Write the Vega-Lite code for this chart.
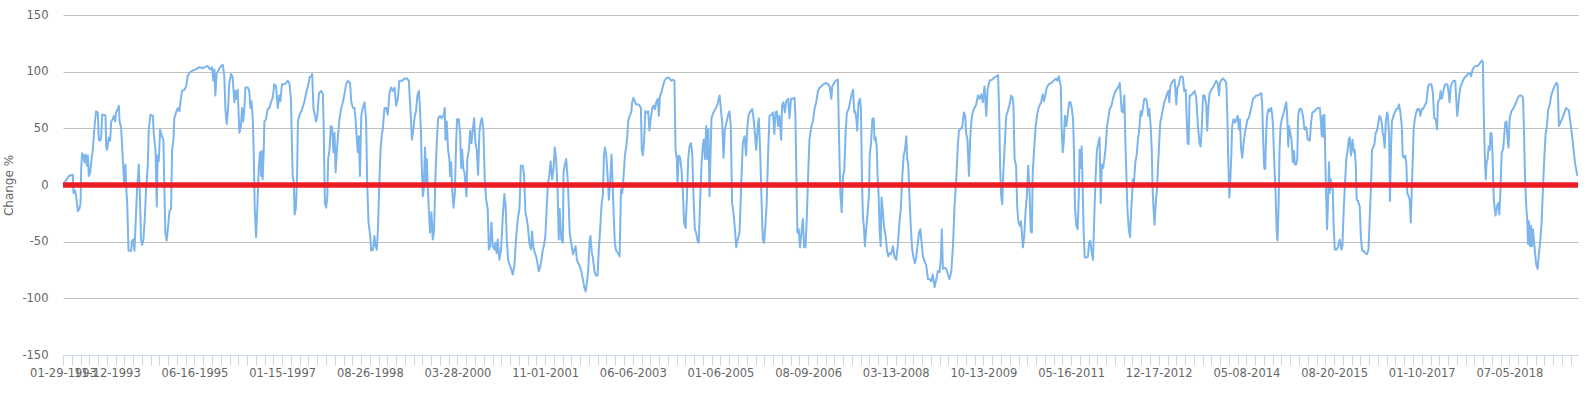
{
"$schema": "https://vega.github.io/schema/vega-lite/v6.json",
"width": 1515, "height": 340,
"autosize": {"type": "none"},
"padding": {"left": 63, "top": 15, "right": 11, "bottom": 38},
"background": "white",
"config": {"view": {"stroke": null}, "font": "DejaVu Sans"},
"data": {"values": [
{"i":0,"v":1},{"i":7,"v":2},{"i":27,"v":8},{"i":45,"v":9},{"i":48,"v":-7},{"i":55,"v":-5},{"i":60,"v":-10},{"i":68,"v":-23},{"i":75,"v":-21},{"i":80,"v":-16},{"i":83,"v":14},{"i":87,"v":28},{"i":93,"v":26},{"i":98,"v":20},{"i":103,"v":27},{"i":109,"v":17},{"i":113,"v":26},{"i":118,"v":8},{"i":124,"v":11},{"i":130,"v":23},{"i":136,"v":31},{"i":144,"v":52},{"i":151,"v":65},{"i":159,"v":64},{"i":163,"v":40},{"i":169,"v":39},{"i":174,"v":42},{"i":179,"v":62},{"i":189,"v":62},{"i":194,"v":61},{"i":197,"v":34},{"i":201,"v":31},{"i":209,"v":42},{"i":215,"v":39},{"i":220,"v":56},{"i":227,"v":58},{"i":232,"v":61},{"i":238,"v":56},{"i":242,"v":64},{"i":250,"v":67},{"i":255,"v":70},{"i":258,"v":56},{"i":265,"v":51},{"i":273,"v":23},{"i":279,"v":2},{"i":285,"v":18},{"i":288,"v":-1},{"i":293,"v":-16},{"i":299,"v":-58},{"i":311,"v":-58},{"i":315,"v":-49},{"i":321,"v":-48},{"i":326,"v":-58},{"i":331,"v":-36},{"i":338,"v":-4},{"i":346,"v":18},{"i":350,"v":-4},{"i":356,"v":-48},{"i":361,"v":-53},{"i":367,"v":-48},{"i":373,"v":-30},{"i":379,"v":-4},{"i":387,"v":17},{"i":391,"v":48},{"i":399,"v":62},{"i":410,"v":61},{"i":414,"v":46},{"i":422,"v":31},{"i":428,"v":-19},{"i":432,"v":26},{"i":437,"v":21},{"i":443,"v":49},{"i":451,"v":43},{"i":458,"v":40},{"i":463,"v":-7},{"i":467,"v":-42},{"i":473,"v":-49},{"i":480,"v":-36},{"i":486,"v":-23},{"i":493,"v":-21},{"i":498,"v":31},{"i":504,"v":40},{"i":508,"v":59},{"i":516,"v":64},{"i":524,"v":68},{"i":531,"v":65},{"i":536,"v":73},{"i":543,"v":83},{"i":554,"v":84},{"i":562,"v":87},{"i":569,"v":96},{"i":577,"v":99},{"i":592,"v":101},{"i":607,"v":102},{"i":622,"v":104},{"i":638,"v":103},{"i":645,"v":104},{"i":660,"v":105},{"i":671,"v":102},{"i":680,"v":104},{"i":686,"v":92},{"i":691,"v":102},{"i":695,"v":79},{"i":701,"v":98},{"i":711,"v":102},{"i":721,"v":105},{"i":729,"v":106},{"i":736,"v":96},{"i":741,"v":67},{"i":747,"v":54},{"i":753,"v":67},{"i":759,"v":90},{"i":767,"v":98},{"i":774,"v":95},{"i":782,"v":73},{"i":787,"v":83},{"i":791,"v":76},{"i":797,"v":84},{"i":805,"v":46},{"i":812,"v":52},{"i":817,"v":68},{"i":822,"v":56},{"i":828,"v":68},{"i":832,"v":86},{"i":843,"v":86},{"i":850,"v":83},{"i":855,"v":68},{"i":860,"v":74},{"i":866,"v":58},{"i":870,"v":31},{"i":875,"v":-21},{"i":881,"v":-46},{"i":887,"v":-19},{"i":893,"v":14},{"i":899,"v":29},{"i":904,"v":8},{"i":907,"v":30},{"i":911,"v":5},{"i":916,"v":31},{"i":919,"v":56},{"i":926,"v":58},{"i":934,"v":67},{"i":942,"v":68},{"i":949,"v":73},{"i":957,"v":77},{"i":964,"v":89},{"i":972,"v":87},{"i":980,"v":68},{"i":987,"v":79},{"i":992,"v":74},{"i":999,"v":89},{"i":1010,"v":89},{"i":1018,"v":90},{"i":1025,"v":92},{"i":1033,"v":90},{"i":1040,"v":76},{"i":1048,"v":8},{"i":1053,"v":2},{"i":1057,"v":-26},{"i":1063,"v":-20},{"i":1068,"v":8},{"i":1072,"v":56},{"i":1078,"v":61},{"i":1091,"v":67},{"i":1101,"v":73},{"i":1109,"v":81},{"i":1121,"v":90},
{"i":1125,"v":95},{"i":1133,"v":96},{"i":1137,"v":98},{"i":1143,"v":67},{"i":1149,"v":62},{"i":1155,"v":56},{"i":1161,"v":62},{"i":1168,"v":81},{"i":1178,"v":83},{"i":1186,"v":80},{"i":1190,"v":46},{"i":1195,"v":-16},{"i":1201,"v":-20},{"i":1206,"v":-10},{"i":1210,"v":23},{"i":1216,"v":31},{"i":1222,"v":52},{"i":1228,"v":51},{"i":1234,"v":29},{"i":1239,"v":46},{"i":1244,"v":11},{"i":1250,"v":31},{"i":1256,"v":46},{"i":1262,"v":59},{"i":1269,"v":67},{"i":1277,"v":73},{"i":1285,"v":81},{"i":1292,"v":89},{"i":1300,"v":92},{"i":1310,"v":90},{"i":1315,"v":74},{"i":1323,"v":68},{"i":1330,"v":68},{"i":1335,"v":58},{"i":1341,"v":40},{"i":1345,"v":29},{"i":1350,"v":43},{"i":1355,"v":8},{"i":1361,"v":61},{"i":1368,"v":68},{"i":1376,"v":73},{"i":1383,"v":58},{"i":1388,"v":2},{"i":1394,"v":-33},{"i":1402,"v":-45},{"i":1406,"v":-58},{"i":1414,"v":-57},{"i":1421,"v":-45},{"i":1426,"v":-54},{"i":1432,"v":-57},{"i":1437,"v":-39},{"i":1444,"v":5},{"i":1449,"v":31},{"i":1455,"v":45},{"i":1459,"v":49},{"i":1467,"v":68},{"i":1475,"v":68},{"i":1482,"v":62},{"i":1490,"v":81},{"i":1497,"v":86},{"i":1505,"v":83},{"i":1513,"v":86},{"i":1520,"v":70},{"i":1528,"v":76},{"i":1535,"v":92},{"i":1548,"v":92},{"i":1558,"v":94},{"i":1569,"v":94},{"i":1578,"v":92},{"i":1581,"v":81},{"i":1587,"v":61},{"i":1592,"v":40},{"i":1599,"v":49},{"i":1605,"v":61},{"i":1611,"v":65},{"i":1617,"v":79},{"i":1624,"v":83},{"i":1628,"v":71},{"i":1633,"v":49},{"i":1637,"v":17},{"i":1642,"v":-10},{"i":1646,"v":-4},{"i":1652,"v":33},{"i":1657,"v":2},{"i":1660,"v":23},{"i":1665,"v":-4},{"i":1669,"v":-21},{"i":1675,"v":-42},{"i":1681,"v":-24},{"i":1687,"v":-48},{"i":1693,"v":-41},{"i":1700,"v":11},{"i":1706,"v":40},{"i":1712,"v":59},{"i":1721,"v":61},{"i":1728,"v":59},{"i":1736,"v":61},{"i":1742,"v":68},{"i":1745,"v":40},{"i":1751,"v":56},{"i":1757,"v":31},{"i":1763,"v":23},{"i":1766,"v":8},{"i":1771,"v":20},{"i":1776,"v":-4},{"i":1782,"v":-20},{"i":1788,"v":-7},{"i":1794,"v":37},{"i":1798,"v":58},{"i":1806,"v":58},{"i":1812,"v":46},{"i":1817,"v":15},{"i":1821,"v":31},{"i":1827,"v":14},{"i":1832,"v":11},{"i":1836,"v":2},{"i":1841,"v":-10},{"i":1845,"v":23},{"i":1852,"v":31},{"i":1858,"v":48},{"i":1864,"v":37},{"i":1870,"v":49},{"i":1876,"v":59},{"i":1882,"v":37},{"i":1888,"v":31},{"i":1894,"v":9},{"i":1900,"v":46},{"i":1906,"v":56},{"i":1912,"v":59},{"i":1918,"v":49},{"i":1925,"v":2},{"i":1931,"v":-13},{"i":1938,"v":-21},{"i":1943,"v":-57},{"i":1949,"v":-54},{"i":1955,"v":-33},{"i":1961,"v":-54},{"i":1969,"v":-57},{"i":1973,"v":-51},{"i":1979,"v":-60},{"i":1984,"v":-48},{"i":1991,"v":-66},{"i":1999,"v":-57},{"i":2007,"v":-27},{"i":2014,"v":-8},{"i":2020,"v":-19},{"i":2025,"v":-48},{"i":2031,"v":-66},{"i":2037,"v":-70},{"i":2045,"v":-74},{"i":2052,"v":-79},{"i":2060,"v":-71},{"i":2067,"v":-48},{"i":2075,"v":-30},{"i":2083,"v":-21},{"i":2089,"v":17},{"i":2098,"v":17},{"i":2104,"v":8},{"i":2110,"v":-24},{"i":2116,"v":-30},{"i":2121,"v":-36},{"i":2128,"v":-51},{"i":2136,"v":-57},{"i":2140,"v":-41},{"i":2146,"v":-54},{"i":2153,"v":-60},{"i":2159,"v":-63},{"i":2165,"v":-69},{"i":2171,"v":-76},{"i":2177,"v":-73},{"i":2183,"v":-66},{"i":2189,"v":-58},{"i":2197,"v":-51},{"i":2201,"v":-45},{"i":2207,"v":-21},{"i":2213,"v":2},{"i":2219,"v":8},{"i":2225,"v":21},{"i":2232,"v":5},{"i":2238,"v":14},{"i":2244,"v":33},{"i":2250,"v":23},{"i":2257,"v":-4},{"i":2262,"v":-48},
{"i":2266,"v":-21},{"i":2274,"v":-48},{"i":2281,"v":-51},{"i":2284,"v":11},{"i":2289,"v":17},{"i":2296,"v":23},{"i":2304,"v":2},{"i":2312,"v":-42},{"i":2319,"v":-51},{"i":2327,"v":-61},{"i":2334,"v":-57},{"i":2339,"v":-54},{"i":2345,"v":-66},{"i":2351,"v":-69},{"i":2357,"v":-71},{"i":2365,"v":-76},{"i":2372,"v":-83},{"i":2380,"v":-91},{"i":2385,"v":-94},{"i":2391,"v":-86},{"i":2397,"v":-74},{"i":2403,"v":-49},{"i":2407,"v":-45},{"i":2413,"v":-60},{"i":2418,"v":-64},{"i":2426,"v":-77},{"i":2433,"v":-80},{"i":2439,"v":-80},{"i":2445,"v":-57},{"i":2451,"v":-39},{"i":2458,"v":-16},{"i":2464,"v":-8},{"i":2468,"v":26},{"i":2473,"v":33},{"i":2479,"v":26},{"i":2485,"v":8},{"i":2491,"v":-13},{"i":2497,"v":4},{"i":2503,"v":27},{"i":2509,"v":-4},{"i":2514,"v":-33},{"i":2518,"v":-51},{"i":2524,"v":-58},{"i":2532,"v":-60},{"i":2540,"v":-63},{"i":2546,"v":-4},{"i":2552,"v":-7},{"i":2558,"v":8},{"i":2564,"v":26},{"i":2570,"v":34},{"i":2575,"v":43},{"i":2579,"v":56},{"i":2585,"v":61},{"i":2593,"v":64},{"i":2597,"v":73},{"i":2603,"v":77},{"i":2610,"v":73},{"i":2616,"v":71},{"i":2628,"v":71},{"i":2637,"v":68},{"i":2641,"v":31},{"i":2646,"v":26},{"i":2651,"v":37},{"i":2657,"v":65},{"i":2664,"v":64},{"i":2670,"v":65},{"i":2676,"v":48},{"i":2682,"v":59},{"i":2689,"v":68},{"i":2695,"v":70},{"i":2701,"v":67},{"i":2707,"v":73},{"i":2714,"v":76},{"i":2719,"v":61},{"i":2724,"v":79},{"i":2730,"v":81},{"i":2737,"v":87},{"i":2745,"v":92},{"i":2752,"v":94},{"i":2763,"v":95},{"i":2775,"v":92},{"i":2783,"v":93},{"i":2790,"v":92},{"i":2795,"v":31},{"i":2801,"v":23},{"i":2804,"v":-1},{"i":2809,"v":26},{"i":2816,"v":24},{"i":2822,"v":14},{"i":2828,"v":-4},{"i":2834,"v":-33},{"i":2841,"v":-38},{"i":2847,"v":-10},{"i":2853,"v":23},{"i":2859,"v":34},{"i":2865,"v":37},{"i":2871,"v":29},{"i":2877,"v":-10},{"i":2883,"v":-39},{"i":2889,"v":-42},{"i":2895,"v":-49},{"i":2901,"v":-51},{"i":2907,"v":-16},{"i":2914,"v":20},{"i":2920,"v":36},{"i":2924,"v":40},{"i":2929,"v":23},{"i":2935,"v":52},{"i":2939,"v":23},{"i":2945,"v":49},{"i":2950,"v":-10},{"i":2955,"v":29},{"i":2959,"v":59},{"i":2968,"v":64},{"i":2977,"v":67},{"i":2986,"v":71},{"i":2996,"v":79},{"i":3002,"v":67},{"i":3008,"v":55},{"i":3014,"v":24},{"i":3020,"v":49},{"i":3026,"v":54},{"i":3034,"v":61},{"i":3041,"v":65},{"i":3047,"v":52},{"i":3053,"v":-16},{"i":3059,"v":-24},{"i":3066,"v":-39},{"i":3072,"v":-55},{"i":3079,"v":-48},{"i":3087,"v":-42},{"i":3094,"v":-4},{"i":3102,"v":37},{"i":3110,"v":43},{"i":3117,"v":26},{"i":3123,"v":52},{"i":3129,"v":62},{"i":3137,"v":65},{"i":3145,"v":67},{"i":3151,"v":59},{"i":3157,"v":46},{"i":3163,"v":31},{"i":3170,"v":51},{"i":3175,"v":59},{"i":3181,"v":31},{"i":3187,"v":-10},{"i":3193,"v":-48},{"i":3199,"v":-51},{"i":3205,"v":-36},{"i":3211,"v":-16},{"i":3218,"v":31},{"i":3224,"v":61},{"i":3233,"v":62},{"i":3239,"v":64},{"i":3246,"v":45},{"i":3251,"v":64},{"i":3257,"v":65},{"i":3263,"v":52},{"i":3269,"v":61},{"i":3277,"v":40},{"i":3281,"v":70},{"i":3287,"v":73},{"i":3294,"v":64},{"i":3300,"v":74},{"i":3309,"v":76},{"i":3315,"v":59},{"i":3322,"v":76},{"i":3330,"v":76},{"i":3338,"v":77},{"i":3342,"v":62},{"i":3347,"v":2},{"i":3351,"v":-42},{"i":3357,"v":-39},{"i":3363,"v":-55},{"i":3370,"v":-41},{"i":3376,"v":-30},{"i":3382,"v":-55},{"i":3388,"v":-55},{"i":3394,"v":-29},{"i":3400,"v":8},{"i":3406,"v":40},
{"i":3415,"v":52},{"i":3422,"v":56},{"i":3430,"v":68},{"i":3437,"v":73},{"i":3445,"v":83},{"i":3453,"v":86},{"i":3460,"v":87},{"i":3471,"v":89},{"i":3483,"v":90},{"i":3491,"v":89},{"i":3498,"v":87},{"i":3506,"v":76},{"i":3510,"v":87},{"i":3516,"v":89},{"i":3526,"v":92},{"i":3536,"v":93},{"i":3541,"v":43},{"i":3547,"v":-7},{"i":3553,"v":-24},{"i":3559,"v":8},{"i":3565,"v":12},{"i":3571,"v":46},{"i":3577,"v":64},{"i":3585,"v":67},{"i":3592,"v":74},{"i":3599,"v":80},{"i":3605,"v":84},{"i":3611,"v":64},{"i":3615,"v":65},{"i":3620,"v":58},{"i":3624,"v":48},{"i":3630,"v":73},{"i":3637,"v":76},{"i":3641,"v":67},{"i":3646,"v":2},{"i":3650,"v":-27},{"i":3655,"v":-39},{"i":3659,"v":-54},{"i":3665,"v":-39},{"i":3671,"v":-26},{"i":3678,"v":-7},{"i":3681,"v":26},{"i":3687,"v":37},{"i":3693,"v":58},{"i":3699,"v":59},{"i":3703,"v":40},{"i":3708,"v":42},{"i":3713,"v":34},{"i":3717,"v":8},{"i":3722,"v":-10},{"i":3726,"v":-39},{"i":3731,"v":-54},{"i":3735,"v":-11},{"i":3741,"v":-24},{"i":3747,"v":-38},{"i":3754,"v":-45},{"i":3760,"v":-58},{"i":3766,"v":-63},{"i":3772,"v":-60},{"i":3779,"v":-61},{"i":3787,"v":-54},{"i":3795,"v":-64},{"i":3802,"v":-66},{"i":3810,"v":-52},{"i":3817,"v":-32},{"i":3823,"v":-21},{"i":3830,"v":8},{"i":3836,"v":26},{"i":3842,"v":31},{"i":3848,"v":43},{"i":3852,"v":23},{"i":3857,"v":18},{"i":3863,"v":-13},{"i":3869,"v":-39},{"i":3875,"v":-57},{"i":3881,"v":-64},{"i":3887,"v":-69},{"i":3893,"v":-64},{"i":3899,"v":-54},{"i":3906,"v":-42},{"i":3912,"v":-39},{"i":3918,"v":-51},{"i":3924,"v":-63},{"i":3931,"v":-67},{"i":3939,"v":-71},{"i":3947,"v":-83},{"i":3954,"v":-83},{"i":3962,"v":-85},{"i":3969,"v":-79},{"i":3977,"v":-90},{"i":3985,"v":-83},{"i":3992,"v":-76},{"i":4000,"v":-77},{"i":4006,"v":-64},{"i":4010,"v":-39},{"i":4015,"v":-74},{"i":4023,"v":-73},{"i":4030,"v":-74},{"i":4038,"v":-79},{"i":4045,"v":-83},{"i":4053,"v":-77},{"i":4061,"v":-54},{"i":4068,"v":-19},{"i":4076,"v":5},{"i":4083,"v":34},{"i":4088,"v":48},{"i":4094,"v":49},{"i":4103,"v":51},{"i":4111,"v":64},{"i":4117,"v":61},{"i":4121,"v":46},{"i":4127,"v":40},{"i":4134,"v":8},{"i":4140,"v":43},{"i":4146,"v":58},{"i":4152,"v":65},{"i":4159,"v":68},{"i":4167,"v":71},{"i":4175,"v":79},{"i":4182,"v":76},{"i":4190,"v":80},{"i":4197,"v":73},{"i":4205,"v":87},{"i":4213,"v":61},{"i":4219,"v":84},{"i":4228,"v":92},{"i":4240,"v":93},{"i":4251,"v":95},{"i":4261,"v":96},{"i":4267,"v":97},{"i":4272,"v":61},{"i":4276,"v":17},{"i":4281,"v":-10},{"i":4286,"v":-17},{"i":4290,"v":8},{"i":4296,"v":31},{"i":4304,"v":61},{"i":4311,"v":65},{"i":4319,"v":71},{"i":4327,"v":79},{"i":4333,"v":77},{"i":4337,"v":70},{"i":4342,"v":23},{"i":4349,"v":17},{"i":4354,"v":-19},{"i":4359,"v":-32},{"i":4365,"v":-36},{"i":4371,"v":-32},{"i":4375,"v":-41},{"i":4380,"v":-55},{"i":4386,"v":-45},{"i":4392,"v":-24},{"i":4398,"v":-10},{"i":4404,"v":17},{"i":4410,"v":-4},{"i":4416,"v":-41},{"i":4421,"v":-42},{"i":4425,"v":11},{"i":4431,"v":31},{"i":4438,"v":51},{"i":4444,"v":61},{"i":4450,"v":67},{"i":4456,"v":70},{"i":4463,"v":73},{"i":4471,"v":80},{"i":4476,"v":74},{"i":4482,"v":79},{"i":4489,"v":86},{"i":4498,"v":89},{"i":4509,"v":90},{"i":4520,"v":92},{"i":4532,"v":94},{"i":4538,"v":92},{"i":4544,"v":96},
{"i":4548,"v":92},{"i":4553,"v":87},{"i":4557,"v":49},{"i":4562,"v":29},{"i":4566,"v":37},{"i":4572,"v":61},{"i":4578,"v":52},{"i":4584,"v":61},{"i":4591,"v":73},{"i":4597,"v":73},{"i":4603,"v":68},{"i":4609,"v":58},{"i":4613,"v":31},{"i":4618,"v":-21},{"i":4624,"v":-36},{"i":4630,"v":-39},{"i":4635,"v":-10},{"i":4639,"v":31},{"i":4644,"v":15},{"i":4648,"v":34},{"i":4653,"v":-4},{"i":4657,"v":-39},{"i":4662,"v":-64},{"i":4670,"v":-64},{"i":4677,"v":-63},{"i":4682,"v":-51},{"i":4688,"v":-49},{"i":4692,"v":-57},{"i":4700,"v":-66},{"i":4706,"v":-27},{"i":4712,"v":8},{"i":4718,"v":31},{"i":4724,"v":37},{"i":4730,"v":42},{"i":4735,"v":-16},{"i":4740,"v":18},{"i":4746,"v":15},{"i":4752,"v":23},{"i":4758,"v":34},{"i":4764,"v":52},{"i":4770,"v":59},{"i":4776,"v":67},{"i":4784,"v":70},{"i":4791,"v":76},{"i":4799,"v":81},{"i":4806,"v":84},{"i":4814,"v":86},{"i":4822,"v":90},{"i":4826,"v":79},{"i":4831,"v":65},{"i":4837,"v":64},{"i":4843,"v":79},{"i":4847,"v":43},{"i":4852,"v":11},{"i":4857,"v":-21},{"i":4863,"v":-39},{"i":4869,"v":-46},{"i":4873,"v":-27},{"i":4878,"v":-10},{"i":4882,"v":5},{"i":4887,"v":2},{"i":4893,"v":20},{"i":4899,"v":26},{"i":4905,"v":40},{"i":4911,"v":49},{"i":4917,"v":65},{"i":4922,"v":61},{"i":4928,"v":68},{"i":4934,"v":76},{"i":4940,"v":76},{"i":4946,"v":74},{"i":4952,"v":61},{"i":4957,"v":67},{"i":4963,"v":52},{"i":4968,"v":31},{"i":4972,"v":-4},{"i":4977,"v":-24},{"i":4981,"v":-35},{"i":4986,"v":-16},{"i":4992,"v":-4},{"i":4996,"v":14},{"i":5001,"v":34},{"i":5007,"v":55},{"i":5013,"v":61},{"i":5019,"v":67},{"i":5025,"v":73},{"i":5031,"v":76},{"i":5037,"v":80},{"i":5044,"v":83},{"i":5048,"v":73},{"i":5053,"v":87},{"i":5059,"v":90},{"i":5065,"v":92},{"i":5072,"v":93},{"i":5077,"v":81},{"i":5080,"v":71},{"i":5085,"v":86},{"i":5092,"v":89},{"i":5098,"v":95},{"i":5104,"v":96},{"i":5110,"v":95},{"i":5116,"v":83},{"i":5123,"v":84},{"i":5127,"v":61},{"i":5132,"v":37},{"i":5136,"v":36},{"i":5141,"v":79},{"i":5148,"v":79},{"i":5156,"v":81},{"i":5164,"v":83},{"i":5171,"v":77},{"i":5176,"v":61},{"i":5180,"v":49},{"i":5186,"v":37},{"i":5191,"v":34},{"i":5196,"v":49},{"i":5202,"v":79},{"i":5209,"v":79},{"i":5217,"v":70},{"i":5221,"v":48},{"i":5226,"v":68},{"i":5232,"v":81},{"i":5240,"v":84},{"i":5247,"v":86},{"i":5255,"v":89},{"i":5262,"v":92},{"i":5270,"v":89},{"i":5275,"v":79},{"i":5279,"v":90},{"i":5287,"v":93},{"i":5293,"v":94},{"i":5302,"v":92},{"i":5308,"v":90},{"i":5313,"v":61},{"i":5317,"v":23},{"i":5322,"v":-11},{"i":5326,"v":2},{"i":5331,"v":26},{"i":5335,"v":52},{"i":5341,"v":58},{"i":5348,"v":55},{"i":5354,"v":58},{"i":5360,"v":61},{"i":5366,"v":49},{"i":5370,"v":58},{"i":5376,"v":31},{"i":5381,"v":24},{"i":5387,"v":37},{"i":5393,"v":46},{"i":5399,"v":52},{"i":5405,"v":58},{"i":5411,"v":59},{"i":5417,"v":64},{"i":5424,"v":70},{"i":5430,"v":76},{"i":5437,"v":77},{"i":5445,"v":79},{"i":5452,"v":79},{"i":5460,"v":80},{"i":5468,"v":81},{"i":5472,"v":71},{"i":5477,"v":37},{"i":5481,"v":15},{"i":5486,"v":14},{"i":5490,"v":46},{"i":5495,"v":62},{"i":5501,"v":67},{"i":5507,"v":65},{"i":5513,"v":68},{"i":5518,"v":61},{"i":5522,"v":49},{"i":5527,"v":20},{"i":5533,"v":-7},{"i":5538,"v":-41},{"i":5542,"v":-49},{"i":5547,"v":-16},{"i":5551,"v":31},{"i":5556,"v":52},{"i":5562,"v":59},{"i":5568,"v":62},{"i":5574,"v":67},{"i":5582,"v":73},{"i":5586,"v":61},{"i":5591,"v":34},{"i":5595,"v":52},{"i":5600,"v":46},{"i":5606,"v":40},{"i":5612,"v":20},{"i":5617,"v":30},{"i":5621,"v":18},{"i":5627,"v":18},{"i":5632,"v":23},{"i":5636,"v":61},{"i":5642,"v":67},{"i":5650,"v":67},{"i":5658,"v":61},{"i":5665,"v":49},{"i":5673,"v":51},{"i":5680,"v":40},{"i":5685,"v":40},
{"i":5689,"v":39},{"i":5695,"v":55},{"i":5701,"v":64},{"i":5710,"v":65},{"i":5719,"v":67},{"i":5727,"v":68},{"i":5735,"v":68},{"i":5739,"v":58},{"i":5744,"v":43},{"i":5748,"v":61},{"i":5753,"v":42},{"i":5756,"v":62},{"i":5760,"v":23},{"i":5763,"v":-4},{"i":5768,"v":-39},{"i":5773,"v":-10},{"i":5777,"v":20},{"i":5780,"v":-7},{"i":5785,"v":5},{"i":5789,"v":-1},{"i":5794,"v":-4},{"i":5798,"v":-36},{"i":5803,"v":-57},{"i":5811,"v":-57},{"i":5818,"v":-55},{"i":5826,"v":-48},{"i":5833,"v":-57},{"i":5838,"v":-54},{"i":5844,"v":-21},{"i":5850,"v":2},{"i":5856,"v":23},{"i":5862,"v":31},{"i":5867,"v":40},{"i":5871,"v":42},{"i":5877,"v":26},{"i":5884,"v":40},{"i":5890,"v":29},{"i":5894,"v":31},{"i":5899,"v":17},{"i":5903,"v":-13},{"i":5909,"v":-14},{"i":5917,"v":-19},{"i":5922,"v":-45},{"i":5928,"v":-58},{"i":5935,"v":-58},{"i":5941,"v":-60},{"i":5950,"v":-61},{"i":5957,"v":-57},{"i":5963,"v":-27},{"i":5969,"v":2},{"i":5973,"v":31},{"i":5978,"v":33},{"i":5984,"v":36},{"i":5990,"v":46},{"i":5996,"v":48},{"i":6002,"v":55},{"i":6007,"v":61},{"i":6013,"v":59},{"i":6017,"v":55},{"i":6022,"v":46},{"i":6026,"v":42},{"i":6031,"v":33},{"i":6036,"v":56},{"i":6042,"v":64},{"i":6046,"v":61},{"i":6051,"v":43},{"i":6055,"v":-14},{"i":6060,"v":34},{"i":6064,"v":56},{"i":6071,"v":61},{"i":6077,"v":64},{"i":6084,"v":67},{"i":6090,"v":67},{"i":6096,"v":71},{"i":6102,"v":65},{"i":6109,"v":52},{"i":6113,"v":26},{"i":6119,"v":24},{"i":6125,"v":26},{"i":6130,"v":18},{"i":6134,"v":-7},{"i":6140,"v":-10},{"i":6145,"v":-13},{"i":6150,"v":-33},{"i":6154,"v":-7},{"i":6159,"v":23},{"i":6163,"v":49},{"i":6169,"v":59},{"i":6175,"v":64},{"i":6181,"v":67},{"i":6188,"v":67},{"i":6194,"v":61},{"i":6200,"v":67},{"i":6206,"v":67},{"i":6213,"v":70},{"i":6221,"v":73},{"i":6229,"v":87},{"i":6236,"v":89},{"i":6244,"v":89},{"i":6251,"v":81},{"i":6257,"v":59},{"i":6264,"v":58},{"i":6270,"v":49},{"i":6274,"v":73},{"i":6282,"v":76},{"i":6286,"v":83},{"i":6291,"v":76},{"i":6297,"v":81},{"i":6303,"v":87},{"i":6309,"v":89},{"i":6317,"v":89},{"i":6323,"v":81},{"i":6327,"v":73},{"i":6332,"v":87},{"i":6338,"v":90},{"i":6346,"v":92},{"i":6353,"v":92},{"i":6358,"v":73},{"i":6362,"v":61},{"i":6367,"v":70},{"i":6371,"v":79},{"i":6376,"v":86},{"i":6382,"v":89},{"i":6388,"v":92},{"i":6396,"v":95},{"i":6403,"v":96},{"i":6411,"v":98},{"i":6419,"v":99},{"i":6425,"v":96},{"i":6431,"v":101},{"i":6438,"v":104},{"i":6446,"v":105},{"i":6454,"v":105},{"i":6460,"v":106},{"i":6467,"v":108},{"i":6475,"v":110},{"i":6479,"v":108},{"i":6482,"v":73},{"i":6487,"v":31},{"i":6492,"v":5},{"i":6496,"v":20},{"i":6501,"v":23},{"i":6505,"v":34},{"i":6510,"v":31},{"i":6514,"v":46},{"i":6519,"v":45},{"i":6523,"v":26},{"i":6528,"v":-10},{"i":6533,"v":-21},{"i":6537,"v":-27},{"i":6543,"v":-19},{"i":6549,"v":-16},{"i":6554,"v":-26},{"i":6558,"v":-10},{"i":6565,"v":29},{"i":6571,"v":31},{"i":6575,"v":40},{"i":6581,"v":55},{"i":6587,"v":56},{"i":6592,"v":40},{"i":6596,"v":33},{"i":6601,"v":58},{"i":6609,"v":65},{"i":6616,"v":67},{"i":6624,"v":70},{"i":6631,"v":73},{"i":6639,"v":77},{"i":6647,"v":79},{"i":6654,"v":79},{"i":6662,"v":77},{"i":6666,"v":52},{"i":6671,"v":8},{"i":6677,"v":-19},{"i":6682,"v":-33},{"i":6685,"v":-52},{"i":6689,"v":-32},{"i":6694,"v":-54},{"i":6698,"v":-36},{"i":6703,"v":-54},{"i":6707,"v":-39},{"i":6712,"v":-49},{"i":6717,"v":-60},{"i":6723,"v":-71},{"i":6729,"v":-74},{"i":6735,"v":-60},{"i":6741,"v":-49},{"i":6747,"v":-33},{"i":6753,"v":-4},{"i":6759,"v":23},{"i":6765,"v":45},{"i":6771,"v":52},{"i":6777,"v":67},{"i":6783,"v":70},{"i":6791,"v":79},{"i":6799,"v":84},{"i":6806,"v":87},{"i":6814,"v":90},{"i":6820,"v":89},{"i":6826,"v":52},{"i":6844,"v":60},{"i":6858,"v":68},{"i":6871,"v":66},{"i":6885,"v":45},{"i":6899,"v":20},{"i":6910,"v":8}
]},
"layer": [
 {"mark": {"type": "line", "color": "#7cb5ec", "strokeWidth": 2, "strokeJoin": "round"},
  "encoding": {
   "x": {"field": "i", "type": "quantitative", "title": null,
     "scale": {"domain": [0, 6913], "nice": false, "zero": false},
     "axis": {"values": [0,40,80,120,160,200,240,280,320,360,400,440,480,520,560,600,640,680,720,760,800,840,880,920,960,1000,1040,1080,1120,1160,1200,1240,1280,1320,1360,1400,1440,1480,1520,1560,1600,1640,1680,1720,1760,1800,1840,1880,1920,1960,2000,2040,2080,2120,2160,2200,2240,2280,2320,2360,2400,2440,2480,2520,2560,2600,2640,2680,2720,2760,2800,2840,2880,2920,2960,3000,3040,3080,3120,3160,3200,3240,3280,3320,3360,3400,3440,3480,3520,3560,3600,3640,3680,3720,3760,3800,3840,3880,3920,3960,4000,4040,4080,4120,4160,4200,4240,4280,4320,4360,4400,4440,4480,4520,4560,4600,4640,4680,4720,4760,4800,4840,4880,4920,4960,5000,5040,5080,5120,5160,5200,5240,5280,5320,5360,5400,5440,5480,5520,5560,5600,5640,5680,5720,5760,5800,5840,5880,5920,5960,6000,6040,6080,6120,6160,6200,6240,6280,6320,6360,6400,6440,6480,6520,6560,6600,6640,6680,6720,6760,6800,6840,6880],
       "labelExpr": "['01-29-1993','11-12-1993','06-16-1995','01-15-1997','08-26-1998','03-28-2000','11-01-2001','06-06-2003','01-06-2005','08-09-2006','03-13-2008','10-13-2009','05-16-2011','12-17-2012','05-08-2014','08-20-2015','01-10-2017','07-05-2018'][indexof([0,200,600,1000,1400,1800,2200,2600,3000,3400,3800,4200,4600,5000,5400,5800,6200,6600], datum.value)] || ''",
       "labelOverlap": false, "labelAngle": 0, "labelAlign": "center",
       "labelFont": "DejaVu Sans", "labelFontSize": 11.5, "labelColor": "#666666", "labelPadding": 2,
       "tickSize": 10, "tickColor": "#ccd6eb", "tickWidth": 1,
       "domainColor": "#ccd6eb", "domainWidth": 1, "grid": false}},
   "y": {"field": "v", "type": "quantitative", "title": "Change %",
     "scale": {"domain": [-150, 150], "nice": false},
     "axis": {"values": [-150,-100,-50,0,50,100,150], "labelExpr": "'' + datum.value",
       "grid": true, "gridColor": "#c0c0c0", "gridWidth": 1, "domain": false, "ticks": false, "tickSize": 0,
       "labelPadding": 15, "labelFont": "DejaVu Sans", "labelFontSize": 11.5, "labelColor": "#666666",
       "titleFont": "DejaVu Sans", "titleFontSize": 12, "titleFontWeight": "normal", "titleColor": "#666666",
       "titleAngle": -90, "titleAlign": "center", "titleBaseline": "middle", "titleX": -55, "titleY": 170}}
  }},
 {"data": {"values": [{}]},
  "mark": {"type": "rule", "color": "#ec1c24", "strokeWidth": 5.5},
  "encoding": {"y": {"datum": 0}}}
]
}
